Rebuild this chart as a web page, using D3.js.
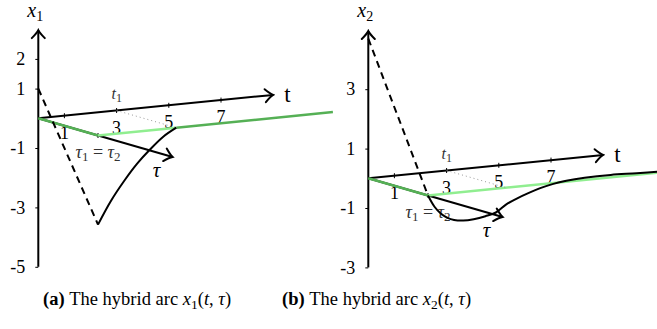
<!DOCTYPE html>
<meta charset="utf-8">
<style>
    body { margin: 0; background: #fff; }
    text { font-family: "Liberation Serif", "Times New Roman", Times, serif; fill: #000; }
    .math { font-style: italic; }
    .axis path.domain { display: none; }
    .axis line { stroke: #000; stroke-width: 1; }
    .axis text { font-size: 18px; font-family: "Liberation Serif", "Times New Roman", serif; }
</style>

<svg width="657" height="329"></svg>

<script src="https://cdn.jsdelivr.net/npm/d3@7/dist/d3.min.js"></script>
<script>

    // DATA

    var tTicks = [1, 3, 5, 7],
        t1 = 3,
        tMax = 9,
        tauMax = 2.25,
        x1Ticks = [2, 1, -1, -3, -5],
        x2Ticks = [3, 1, -1, -3],
        x1Jump = [1, -3],
        x2Jump = [4.7, 0],
        x1FlowT = [0, 0.5, 1, 1.5, 2, 2.5, 3],
        x1Flow = [-3, -2.24, -1.62, -1.08, -0.64, -0.26, 0],
        x2FlowT = [0, 0.25, 0.5, 0.75, 1, 1.35, 1.75, 2.2, 2.6, 3, 3.4, 3.8, 4.3, 4.8, 5.3, 6, 7, 8, 9],
        x2Flow = [0, -0.4, -0.66, -0.82, -0.91, -0.96, -0.95, -0.89, -0.8, -0.56, -0.4, -0.27, -0.13, -0.03, 0.03, 0.07, 0.08, 0.05, 0.03];

    // SETUP

    var svg = d3.select("svg");

    // oblique projection: t goes right and slightly up, tau goes right and down
    var tX = d3.scaleLinear().domain([0, 1]).range([0, 26.1]),
        tY = d3.scaleLinear().domain([0, 1]).range([0, -2.6]),
        tauX = d3.scaleLinear().domain([0, 1]).range([0, 59.7]),
        tauY = d3.scaleLinear().domain([0, 1]).range([0, 17.2]),
        vY = d3.scaleLinear().domain([0, 1]).range([0, -29.7]);

    var panels = [
        { sub: "1", tag: "(a)", ox: 38.3, oy: 118.3, vMin: -5, vMax: 2.97, ticks: x1Ticks,
          jump: x1Jump, flowT: x1FlowT, flow: x1Flow, capX: 43, darkTail: true },
        { sub: "2", tag: "(b)", ox: 368.3, oy: 178.3, vMin: -3, vMax: 4.96, ticks: x2Ticks,
          jump: x2Jump, flowT: x2FlowT, flow: x2Flow, capX: 282, darkTail: false }
    ];

    var defs = svg.append("defs");
    defs.append("marker")
        .attr("id", "arrow")
        .attr("markerUnits", "userSpaceOnUse")
        .attr("viewBox", "-12 -8 14 16")
        .attr("markerWidth", 14).attr("markerHeight", 16)
        .attr("refX", 0).attr("refY", 0)
        .attr("orient", "auto")
        .append("path")
        .attr("d", "M-8,-6.5 Q-3,-1.5 0,0 Q-3,1.5 -8,6.5")
        .attr("fill", "none")
        .attr("stroke", "#000")
        .attr("stroke-width", 2)
        .attr("stroke-linecap", "round");

    var line = d3.line().curve(d3.curveCatmullRom.alpha(0.5));

    // DRAWING

    panels.forEach(function (p) {

        function proj(t, tau, v) {
            return [p.ox + tX(t) + tauX(tau), p.oy + tY(t) + tauY(tau) + vY(v)];
        }

        var g = svg.append("g");

        // vertical axis
        var y = d3.scaleLinear().domain([0, 1]).range([p.oy, p.oy + vY(1)]);
        g.append("g")
            .attr("class", "axis")
            .attr("transform", "translate(" + p.ox + ",0)")
            .call(d3.axisLeft(y).tickValues(p.ticks).tickSize(3).tickPadding(10)
                .tickFormat(function (d) { return String(d); }));
        g.append("line")
            .attr("x1", p.ox).attr("y1", y(p.vMin))
            .attr("x2", p.ox).attr("y2", y(p.vMax))
            .attr("stroke", "#000").attr("stroke-width", 2)
            .attr("marker-end", "url(#arrow)");

        // t axis
        var a0 = proj(0, 0, 0), a1 = proj(tMax, 0, 0);
        g.append("line")
            .attr("x1", a0[0]).attr("y1", a0[1]).attr("x2", a1[0]).attr("y2", a1[1])
            .attr("stroke", "#000").attr("stroke-width", 2)
            .attr("marker-end", "url(#arrow)");
        g.selectAll(".ttick").data(tTicks).enter().append("line")
            .attr("x1", function (d) { return proj(d, 0, 0)[0]; })
            .attr("x2", function (d) { return proj(d, 0, 0)[0]; })
            .attr("y1", function (d) { return proj(d, 0, 0)[1] - 2.5; })
            .attr("y2", function (d) { return proj(d, 0, 0)[1] + 2.5; })
            .attr("stroke", "#000").attr("stroke-width", 1);
        g.selectAll(".tlab").data(tTicks).enter().append("text")
            .attr("x", function (d) { return proj(d, 0, 0)[0]; })
            .attr("y", function (d) { return proj(d, 0, 0)[1] + 23; })
            .attr("text-anchor", "middle")
            .style("font-size", "18px")
            .text(function (d) { return d; });
        g.append("text")
            .attr("x", a1[0] + 11).attr("y", a1[1] + 7)
            .style("font-size", "23px")
            .text("t");

        // tau axis
        var b1 = proj(0, tauMax, 0), k = proj(0, 1, 0);
        g.append("line")
            .attr("x1", a0[0]).attr("y1", a0[1]).attr("x2", b1[0]).attr("y2", b1[1])
            .attr("stroke", "#000").attr("stroke-width", 2)
            .attr("marker-end", "url(#arrow)");
        g.append("line")
            .attr("x1", k[0]).attr("x2", k[0]).attr("y1", k[1] - 2.5).attr("y2", k[1] + 2.5)
            .attr("stroke", "#000").attr("stroke-width", 1);
        g.append("text")
            .attr("class", "math")
            .attr("x", b1[0] - 16).attr("y", b1[1] + 20)
            .attr("text-anchor", "middle")
            .style("font-size", "21px")
            .text("τ");

        // hybrid time domain
        g.append("path")
            .attr("d", d3.line()([proj(0, 0, 0), proj(0, 1, 0)]))
            .attr("stroke", "#55b055").attr("stroke-width", 2.5).attr("fill", "none");
        g.append("path")
            .attr("d", d3.line()([proj(0, 1, 0), proj(p.darkTail ? t1 : tMax, 1, 0)]))
            .attr("stroke", "#90ee90").attr("stroke-width", 2.5).attr("fill", "none");
        if (p.darkTail) {
            g.append("path")
                .attr("d", d3.line()([proj(t1, 1, 0), proj(tMax, 1, 0)]))
                .attr("stroke", "#55b055").attr("stroke-width", 2.5).attr("fill", "none");
        }

        // t1 marker
        g.append("path")
            .attr("d", d3.line()([proj(t1, 0, 0), proj(t1, 1, 0)]))
            .attr("stroke", "#999").attr("stroke-width", 1)
            .attr("stroke-dasharray", "1,3").attr("fill", "none");
        var tp = proj(t1, 0, 0);
        var tl = g.append("text").attr("class", "math")
            .attr("x", tp[0] - 5).attr("y", tp[1] - 12)
            .style("font-size", "16px").style("fill", "#333");
        tl.append("tspan").text("t");
        tl.append("tspan").attr("dy", 3).style("font-size", "12px").style("font-style", "normal").text("1");

        var jl = g.append("text").attr("x", k[0]).attr("y", k[1] + 22)
            .attr("text-anchor", "middle")
            .style("font-size", "18px").style("fill", "#333");
        jl.append("tspan").attr("class", "math").text("τ");
        jl.append("tspan").attr("dy", 3).style("font-size", "13px").text("1");
        jl.append("tspan").attr("dy", -3).text(" = ");
        jl.append("tspan").attr("class", "math").text("τ");
        jl.append("tspan").attr("dy", 3).style("font-size", "13px").text("2");

        // jump (dashed) and flow (solid)
        g.append("path")
            .attr("d", d3.line()(p.jump.map(function (v, i) { return proj(0, i, v); })))
            .attr("stroke", "#000").attr("stroke-width", 2)
            .attr("stroke-dasharray", "7,5").attr("fill", "none");
        g.append("path")
            .attr("d", line(p.flow.map(function (v, i) { return proj(p.flowT[i], 1, v); })))
            .attr("stroke", "#000").attr("stroke-width", 2).attr("fill", "none");

        // axis name
        var xl = g.append("text").attr("class", "math")
            .attr("x", p.ox - 11).attr("y", 17)
            .style("font-size", "20px");
        xl.append("tspan").text("x");
        xl.append("tspan").attr("dy", 4).style("font-size", "14px").style("font-style", "normal").text(p.sub);

        // caption
        var c = g.append("text").attr("x", p.capX).attr("y", 305).style("font-size", "18.5px");
        c.append("tspan").style("font-weight", "bold").text(p.tag + " ");
        c.append("tspan").text("The hybrid arc ");
        c.append("tspan").attr("class", "math").text("x");
        c.append("tspan").attr("dy", 4).style("font-size", "13.5px").text(p.sub);
        c.append("tspan").attr("dy", -4).text("(");
        c.append("tspan").attr("class", "math").text("t");
        c.append("tspan").text(", ");
        c.append("tspan").attr("class", "math").text("τ");
        c.append("tspan").text(")");
    });

</script>
